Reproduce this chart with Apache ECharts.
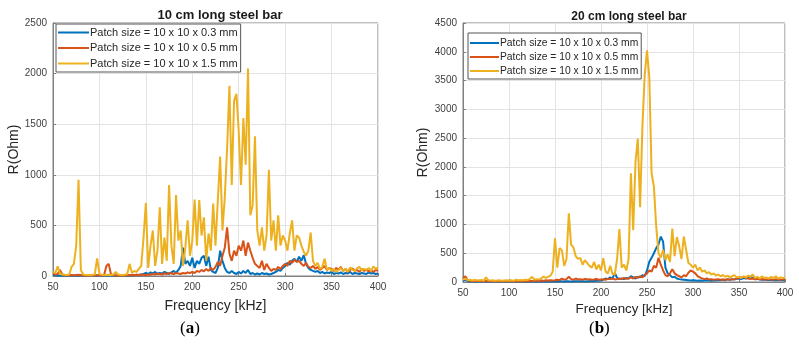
<!DOCTYPE html>
<html>
<head>
<meta charset="utf-8">
<script src="https://cdn.jsdelivr.net/npm/echarts@6/dist/echarts.min.js"></script>
<style>
  html, body { margin: 0; padding: 0; background: #fff; }
  #chart { width: 799px; height: 350px; }
</style>
</head>
<body>
<div id="chart"></div>
<script>
// sweep: 50..400 kHz, 2.5 kHz step (141 samples)
const freqStart = 50
const freqStep = 2.5
const freq = Array.from({ length: 141 }, (_, i) => freqStart + i * freqStep)

const seriesNames = [
  'Patch size = 10 x 10 x 0.3 mm',
  'Patch size = 10 x 10 x 0.5 mm',
  'Patch size = 10 x 10 x 1.5 mm',
]
const seriesColors = ['#0072BD', '#D95319', '#EDB120']
const titles = ['10 cm long steel bar', '20 cm long steel bar']
const panelLabels = ['a', 'b']
const xTicks = [50, 100, 150, 200, 250, 300, 350, 400]
const yMaxA = 2500
const yMaxB = 4500

// (a) 10 cm bar
const blueA = [
  10, 8, 6, 5, 5, 4, 5, 4, 5, 4, 5, 6, 5, 4, 5, 4, 5, 4, 5, 6,
  5, 4, 5, 4, 5, 4, 5, 6, 5, 4, 5, 6, 8, 6, 10, 8, 12, 10, 15, 20,
  30, 20, 35, 25, 40, 20, 30, 25, 40, 30, 20, 35, 50, 30, 60, 100, 280, 120, 150, 100,
  180, 80, 150, 120, 180, 200, 100, 190, 60, 40, 30, 80, 250, 150, 80, 40, 30, 50, 30, 20,
  40, 25, 50, 30, 60, 20, 30, 15, 25, 15, 30, 20, 25, 15, 20, 30, 40, 60, 50, 80,
  100, 130, 110, 150, 170, 140, 190, 150, 205, 120, 80, 60, 50, 40, 50, 30, 40, 25, 35, 30,
  40, 20, 30, 25, 35, 20, 30, 25, 40, 20, 30, 25, 20, 30, 25, 20, 35, 25, 30, 20,
  25,
]
const orangeA = [
  30, 15, 20, 60, 15, 10, 8, 8, 10, 8, 10, 12, 8, 8, 6, 8, 6, 8, 6, 8,
  8, 6, 10, 100, 120, 15, 8, 6, 8, 6, 8, 6, 8, 10, 8, 10, 12, 10, 15, 12,
  10, 15, 12, 20, 15, 25, 20, 15, 25, 20, 30, 25, 20, 30, 25, 20, 30, 25, 35, 30,
  40, 30, 50, 40, 60, 45, 70, 50, 80, 60, 90, 140, 100, 200, 280, 480, 220, 150, 250, 200,
  300, 250, 350, 200, 330, 250, 180, 120, 100, 80, 150, 60, 120, 80, 50, 70, 60, 90, 70, 100,
  120, 100, 150, 130, 160, 140, 150, 120, 100, 130, 90, 80, 100, 70, 90, 60, 80, 100, 60, 80,
  70, 50, 80, 60, 90, 50, 70, 40, 60, 75, 50, 60, 40, 70, 50, 60, 45, 55, 40, 60,
  50,
]
const yellowA = [
  40, 30, 95, 25, 15, 12, 10, 15, 90, 120, 300, 950, 60, 15, 10, 10, 8, 12, 15, 175,
  20, 12, 10, 10, 12, 10, 15, 40, 15, 10, 10, 12, 20, 120, 30, 50, 40, 70, 100, 380,
  720, 80, 300, 450, 100, 250, 680, 120, 380, 150, 900, 300, 120, 800, 350, 450, 100, 280, 550, 200,
  350, 755, 300, 750, 400, 580, 150, 420, 250, 715, 300, 750, 1180, 450, 780, 1260, 1880, 900, 1730, 1800,
  1430, 900, 1560, 1100, 2050, 600, 700, 1380, 450, 300, 480, 250, 400, 1050, 350, 550, 250, 600, 300, 400,
  350, 250, 420, 550, 250, 400, 380, 300, 240, 200, 250, 430, 150, 100, 130, 70, 90, 170, 60, 80,
  50, 70, 40, 60, 80, 50, 70, 45, 85, 60, 50, 75, 90, 55, 70, 60, 80, 50, 95, 70,
  85,
]

// (b) 20 cm bar
const blueB = [
  20, 40, 15, 10, 10, 8, 10, 8, 10, 8, 10, 8, 10, 8, 10, 8, 10, 8, 10, 8,
  10, 8, 10, 8, 10, 8, 12, 10, 8, 10, 8, 10, 12, 10, 8, 10, 12, 10, 12, 10,
  12, 10, 15, 12, 10, 15, 12, 10, 15, 12, 15, 12, 15, 10, 15, 12, 20, 15, 25, 20,
  30, 40, 60, 50, 80, 60, 160, 70, 50, 60, 50, 70, 60, 100, 80, 60, 90, 80, 120, 100,
  200, 350, 420, 500, 590, 650, 790, 700, 250, 150, 120, 80, 90, 60, 50, 45, 40, 35, 30, 25,
  30, 25, 20, 25, 20, 25, 30, 25, 20, 30, 25, 35, 30, 40, 30, 45, 40, 50, 45, 55,
  60, 50, 70, 60, 80, 100, 70, 60, 50, 45, 40, 45, 35, 40, 35, 30, 35, 30, 35, 30,
  30,
]
const orangeB = [
  60, 100, 30, 20, 15, 20, 15, 20, 15, 12, 15, 20, 15, 12, 15, 12, 15, 12, 15, 12,
  15, 12, 15, 10, 15, 12, 15, 20, 15, 20, 15, 20, 25, 20, 25, 20, 30, 25, 30, 25,
  30, 40, 35, 60, 40, 50, 90, 50, 40, 60, 45, 50, 40, 55, 45, 50, 40, 45, 55, 40,
  45, 50, 40, 55, 50, 60, 45, 50, 60, 50, 70, 55, 60, 80, 60, 90, 70, 100, 80, 120,
  150, 200, 180, 280, 250, 420, 300, 200, 120, 100, 150, 220, 150, 120, 100, 80, 120, 100, 160, 200,
  180, 150, 100, 80, 60, 50, 60, 45, 50, 40, 45, 50, 40, 45, 40, 50, 40, 45, 50, 60,
  70, 80, 90, 70, 60, 50, 60, 45, 55, 50, 45, 55, 40, 50, 45, 40, 50, 45, 40, 50,
  45,
]
const yellowB = [
  40, 60, 30, 40, 25, 35, 30, 25, 35, 20, 80, 30, 25, 30, 20, 25, 30, 20, 25, 30,
  25, 30, 20, 40, 30, 35, 30, 40, 35, 50, 90, 40, 50, 45, 60, 95, 70, 90, 110, 180,
  760, 250, 590, 550, 280, 400, 1195, 650, 600, 450, 400, 420, 300, 380, 330, 280, 250, 350, 220, 300,
  200, 415, 180, 150, 280, 140, 130, 400, 920, 250, 300, 200, 400, 1890, 900, 2090, 2490, 1300, 2700, 3590,
  4025, 3560, 1890, 1660, 965, 500, 420, 560, 380, 480, 350, 930, 450, 780, 620, 400, 790, 560, 330, 300,
  250, 300, 200, 250, 180, 200, 150, 170, 130, 150, 110, 130, 100, 120, 90, 110, 80, 100, 120, 80,
  90, 70, 100, 80, 110, 90, 130, 70, 90, 60, 100, 70, 80, 60, 90, 70, 100, 60, 80, 70,
  75,
]

const panelValues = [
  [blueA, orangeA, yellowA],
  [blueB, orangeB, yellowB],
]

const font = 'Liberation Sans, Arial, Helvetica, sans-serif'
const boxColor = '#808080'
const labelColor = '#404040'

function pairs(values) {
  return values.map((v, i) => [freq[i], v])
}

function xAxisFor(gridIndex, nameGap, nameSize) {
  return {
    gridIndex,
    type: 'value',
    min: xTicks[0],
    max: xTicks[xTicks.length - 1],
    interval: 50,
    name: 'Frequency [kHz]',
    nameLocation: 'middle',
    nameGap,
    nameTextStyle: { fontSize: nameSize, color: '#262626', fontFamily: font },
    axisLine: { lineStyle: { color: boxColor, width: 1 } },
    axisTick: { inside: true, length: 3, lineStyle: { color: boxColor } },
    axisLabel: { color: labelColor, fontSize: 10, margin: 6, fontFamily: font, formatter: (v) => String(v) },
    splitLine: { show: true, lineStyle: { color: '#e3e3e3', width: 1 } },
  }
}

function yAxisFor(gridIndex, max, nameGap) {
  return {
    gridIndex,
    type: 'value',
    min: 0,
    max,
    interval: 500,
    name: 'R(Ohm)',
    nameLocation: 'middle',
    nameGap,
    nameTextStyle: { fontSize: 14, color: '#262626', fontFamily: font },
    axisLine: { show: true, lineStyle: { color: boxColor, width: 1 } },
    axisTick: { show: true, inside: true, length: 3, lineStyle: { color: boxColor } },
    axisLabel: { color: labelColor, fontSize: 10, margin: 6, fontFamily: font, formatter: (v) => String(v) },
    splitLine: { show: true, lineStyle: { color: '#e3e3e3', width: 1 } },
  }
}

function legendFor(left, top, fontSize, itemWidth, itemGap, padTop) {
  return {
    orient: 'vertical',
    left,
    top,
    icon: 'rect',
    itemWidth,
    itemHeight: 2,
    itemGap,
    padding: [padTop, 3, 3, 2],
    backgroundColor: '#fff',
    borderColor: '#555',
    borderWidth: 1,
    borderRadius: 0,
    textStyle: { fontSize, color: '#262626', fontFamily: font, padding: [0, 0, 0, -4] },
    data: seriesNames,
  }
}

const series = []
panelValues.forEach((group, p) => {
  group.forEach((vals, k) => {
    series.push({
      name: seriesNames[k],
      type: 'line',
      xAxisIndex: p,
      yAxisIndex: p,
      symbol: 'none',
      color: seriesColors[k],
      lineStyle: { width: 2, color: seriesColors[k] },
      data: pairs(vals),
      z: 2 + k,
    })
  })
})

const chart = echarts.init(document.getElementById('chart'), null, { renderer: 'canvas' })

chart.setOption({
  animation: false,
  backgroundColor: '#fff',
  title: [
    { text: titles[0], left: 215, top: 4, textAlign: 'center',
      textStyle: { fontSize: 13, fontWeight: 'bold', color: '#1a1a1a', fontFamily: font } },
    { text: titles[1], left: 624, top: 6, textAlign: 'center',
      textStyle: { fontSize: 12, fontWeight: 'bold', color: '#1a1a1a', fontFamily: font } },
  ],
  grid: [
    { left: 53, top: 23, width: 325, height: 253, show: true, borderColor: boxColor, borderWidth: 1, containLabel: false },
    { left: 463, top: 23, width: 322, height: 259, show: true, borderColor: boxColor, borderWidth: 1, containLabel: false },
  ],
  legend: [
    legendFor(56, 24, 11, 31, 4.5, 3),
    legendFor(468, 33, 10.3, 29, 4, 5),
  ],
  xAxis: [xAxisFor(0, 23, 14), xAxisFor(1, 20, 13.3)],
  yAxis: [yAxisFor(0, yMaxA, 32), yAxisFor(1, yMaxB, 33)],
  graphic: [
    { type: 'text', left: 180, top: 320,
      style: { text: '{p|(}{b|' + panelLabels[0] + '}{p|)}',
        rich: { p: { fontSize: 17, fontFamily: 'Liberation Serif', fill: '#000' },
                b: { fontSize: 17, fontFamily: 'Liberation Serif', fontWeight: 'bold', fill: '#000' } } } },
    { type: 'text', left: 589, top: 320,
      style: { text: '{p|(}{b|' + panelLabels[1] + '}{p|)}',
        rich: { p: { fontSize: 17, fontFamily: 'Liberation Serif', fill: '#000' },
                b: { fontSize: 17, fontFamily: 'Liberation Serif', fontWeight: 'bold', fill: '#000' } } } },
  ],
  series,
})
</script>
</body>
</html>
